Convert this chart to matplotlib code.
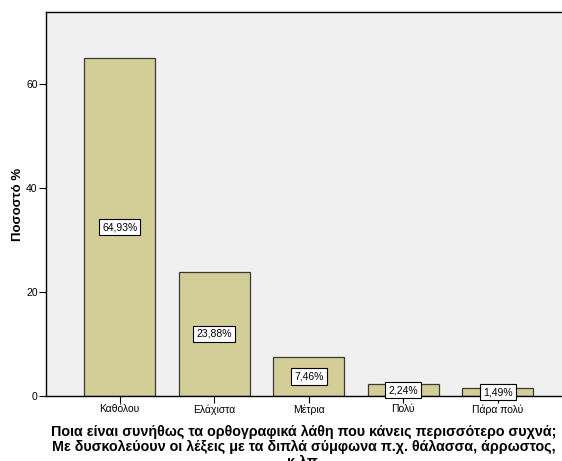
import matplotlib.pyplot as plt

plt.rcParams['font.family'] = ['Liberation Sans', 'DejaVu Sans']

categories = ['Καθόλου', 'Ελάχιστα', 'Μέτρια', 'Πολύ', 'Πάρα πολύ']
percents = [64.93, 23.88, 7.46, 2.24, 1.49]
value_labels = ['64,93%', '23,88%', '7,46%', '2,24%', '1,49%']

fig = plt.figure(figsize=(5.62, 4.61), dpi=100)
ax = fig.add_axes([46 / 562, 65 / 461, 516 / 562, 384 / 461])
ax.set_facecolor('#F0F0F0')

x = range(len(categories))
ax.bar(x, percents, width=0.75, color='#D3CE97', edgecolor='#3a3a3a', linewidth=0.9, zorder=2)

for i, v in enumerate(percents):
    ax.text(i, v / 2, value_labels[i], ha='center', va='center', fontsize=7.5, zorder=3,
            bbox=dict(boxstyle='square,pad=0.3', facecolor='white', edgecolor='black', linewidth=0.8))

ax.set_xlim(-0.78, 4.68)
ax.set_ylim(0, 73.8)
ax.set_yticks([0, 20, 40, 60])
ax.set_xticks(list(x))
ax.set_xticklabels(categories)
ax.tick_params(axis='both', direction='out', length=5, width=0.8, labelsize=7.5, pad=1)

for side in ['top', 'left', 'bottom']:
    ax.spines[side].set_linewidth(1.0)
ax.spines['right'].set_visible(False)

ax.set_ylabel('Ποσοστό %', fontsize=9.5, fontweight='bold')
ax.yaxis.set_label_coords(-0.043, 0.5)
ax.set_xlabel('Ποια είναι συνήθως τα ορθογραφικά λάθη που κάνεις περισσότερο συχνά;\n'
              'Με δυσκολεύουν οι λέξεις με τα διπλά σύμφωνα π.χ. θάλασσα, άρρωστος,\n'
              'κ.λπ.', fontsize=10.3, fontweight='bold', labelpad=7, linespacing=1.1)

fig.savefig('out.png', dpi=100)
